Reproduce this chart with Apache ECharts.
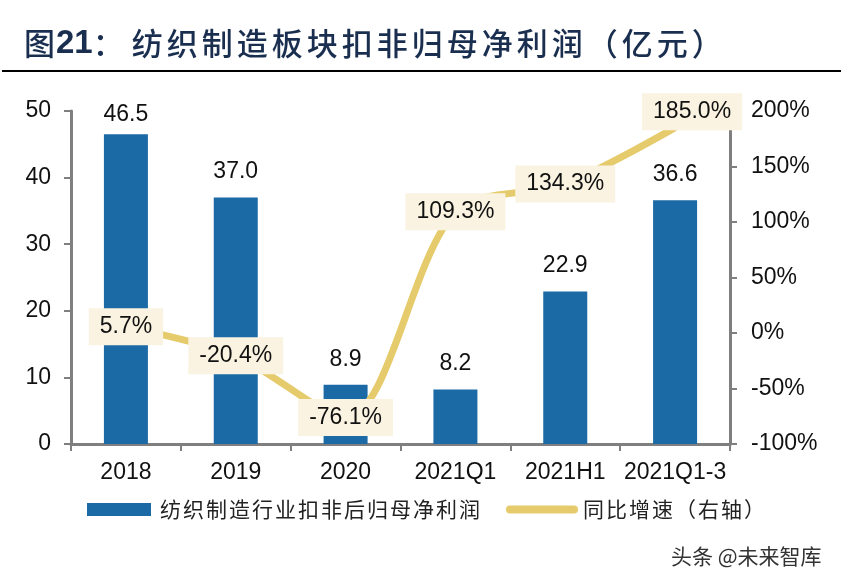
<!DOCTYPE html>
<html>
<head>
<meta charset="utf-8">
<style>html,body{margin:0;padding:0;background:#fff}#main{width:841px;height:586px}</style>
<script src="https://cdn.jsdelivr.net/npm/echarts@6/dist/echarts.min.js"></script>
</head>
<body>
<div id="main"></div>
<script>
var categories = ['2018', '2019', '2020', '2021Q1', '2021H1', '2021Q1-3'];
var profit = [46.5, 37.0, 8.9, 8.2, 22.9, 36.6];
var growth = [5.7, -20.4, -76.1, 109.3, 134.3, 185.0];
var barName = '纺织制造行业扣非后归母净利润';
var lineName = '同比增速（右轴）';
var titleText = '纺织制造板块扣非归母净利润（亿元）';

var latin = '"Liberation Sans", Arial, sans-serif';
var cjk = '"Noto Sans CJK SC", sans-serif';
var axisColor = '#7f7f7f';

function axisLine() {
	return {show: true, lineStyle: {color: axisColor, width: 3}};
}
function axisTick() {
	return {show: true, length: 7, lineStyle: {color: axisColor, width: 2}};
}
// 逐字放进固定宽度的rich块，相当于字间距
function spaced(str, style) {
	return str.split('').map(function (c) { return '{' + style + '|' + c + '}'; }).join('');
}

var barData = profit.map(function (v, i) {
	// 46.5的标签离柱子更近
	return {value: v, label: {distance: i === 0 ? 8 : 14}};
});
var lineData = growth.map(function (v, i) {
	// 最后一个标签往右上挪，避开折线
	return i === growth.length - 1 ? {value: v, label: {offset: [17, -16]}} : v;
});

var myChart = echarts.init(document.getElementById('main'));
var option = {
	animation: false,
	backgroundColor: '#fff',
	title: {
		left: 19, top: 22,
		text: '{a|图}{b|21}{c|：}' + spaced(titleText, 'd'),
		textStyle: {
			fontWeight: 'normal',
			rich: {
				a: {fontFamily: cjk, fontSize: 31, fontWeight: 500, color: '#1a2f4f', width: 32},
				b: {fontFamily: latin, fontSize: 33, fontWeight: 'bold', color: '#1a2f4f'},
				c: {fontFamily: cjk, fontSize: 31, fontWeight: 500, color: '#1a2f4f', width: 39},
				d: {fontFamily: cjk, fontSize: 31, fontWeight: 500, color: '#1a2f4f', width: 35}
			}
		}
	},
	graphic: [
		{type: 'line', shape: {x1: 2, y1: 71, x2: 841, y2: 71}, style: {stroke: '#000', lineWidth: 2}},
		{type: 'text', left: 671, top: 546, style: {text: '头条 @未来智库', fontFamily: cjk, fontSize: 21, fill: '#333'}}
	],
	grid: {left: 71, right: 111, top: 111, bottom: 142},
	legend: {
		left: 82, top: 494,
		itemWidth: 64, itemHeight: 13, itemGap: 26,
		formatter: function (name) { return spaced(name, 'n'); },
		textStyle: {
			padding: [0, 0, 0, 4],
			rich: {n: {fontFamily: cjk, fontSize: 21, color: '#222', width: 23}}
		},
		data: [
			{name: barName, icon: 'rect'},
			{name: lineName, itemStyle: {opacity: 0}, lineStyle: {width: 8, cap: 'round', color: '#e5cb6b'}}
		]
	},
	xAxis: {
		type: 'category',
		data: categories,
		axisLine: axisLine(),
		axisTick: axisTick(),
		axisLabel: {fontFamily: latin, fontSize: 23, color: '#111', margin: 17, interval: 0}
	},
	yAxis: [
		{
			type: 'value', min: 0, max: 50, interval: 10,
			splitLine: {show: false},
			axisLine: axisLine(),
			axisTick: axisTick(),
			axisLabel: {fontFamily: latin, fontSize: 23, color: '#111', margin: 20, padding: [6, 0, 0, 0]}
		},
		{
			type: 'value', min: -100, max: 200, interval: 50,
			position: 'right',
			splitLine: {show: false},
			axisLine: axisLine(),
			axisTick: axisTick(),
			axisLabel: {fontFamily: latin, fontSize: 23, color: '#111', margin: 21, padding: [6, 0, 0, 0], formatter: '{value}%'}
		}
	],
	series: [
		{
			name: barName,
			type: 'bar',
			barWidth: 44,
			itemStyle: {color: '#1b6aa5'},
			label: {show: true, position: 'top', fontFamily: latin, fontSize: 23, color: '#111',
				formatter: function (p) { return p.value.toFixed(1); }},
			data: barData
		},
		{
			name: lineName,
			type: 'line',
			yAxisIndex: 1,
			smooth: 0.3,
			symbol: 'circle',
			symbolSize: 0.01,
			z: 3,
			lineStyle: {color: '#e5cb6b', width: 7},
			itemStyle: {color: '#e5cb6b'},
			label: {show: true, position: 'inside', fontFamily: latin, fontSize: 23, color: '#111',
				backgroundColor: '#faf3e1', padding: [10, 11, 4, 11],
				formatter: function (p) { return p.value.toFixed(1) + '%'; }},
			data: lineData
		}
	]
};
myChart.setOption(option);
</script>
</body>
</html>
